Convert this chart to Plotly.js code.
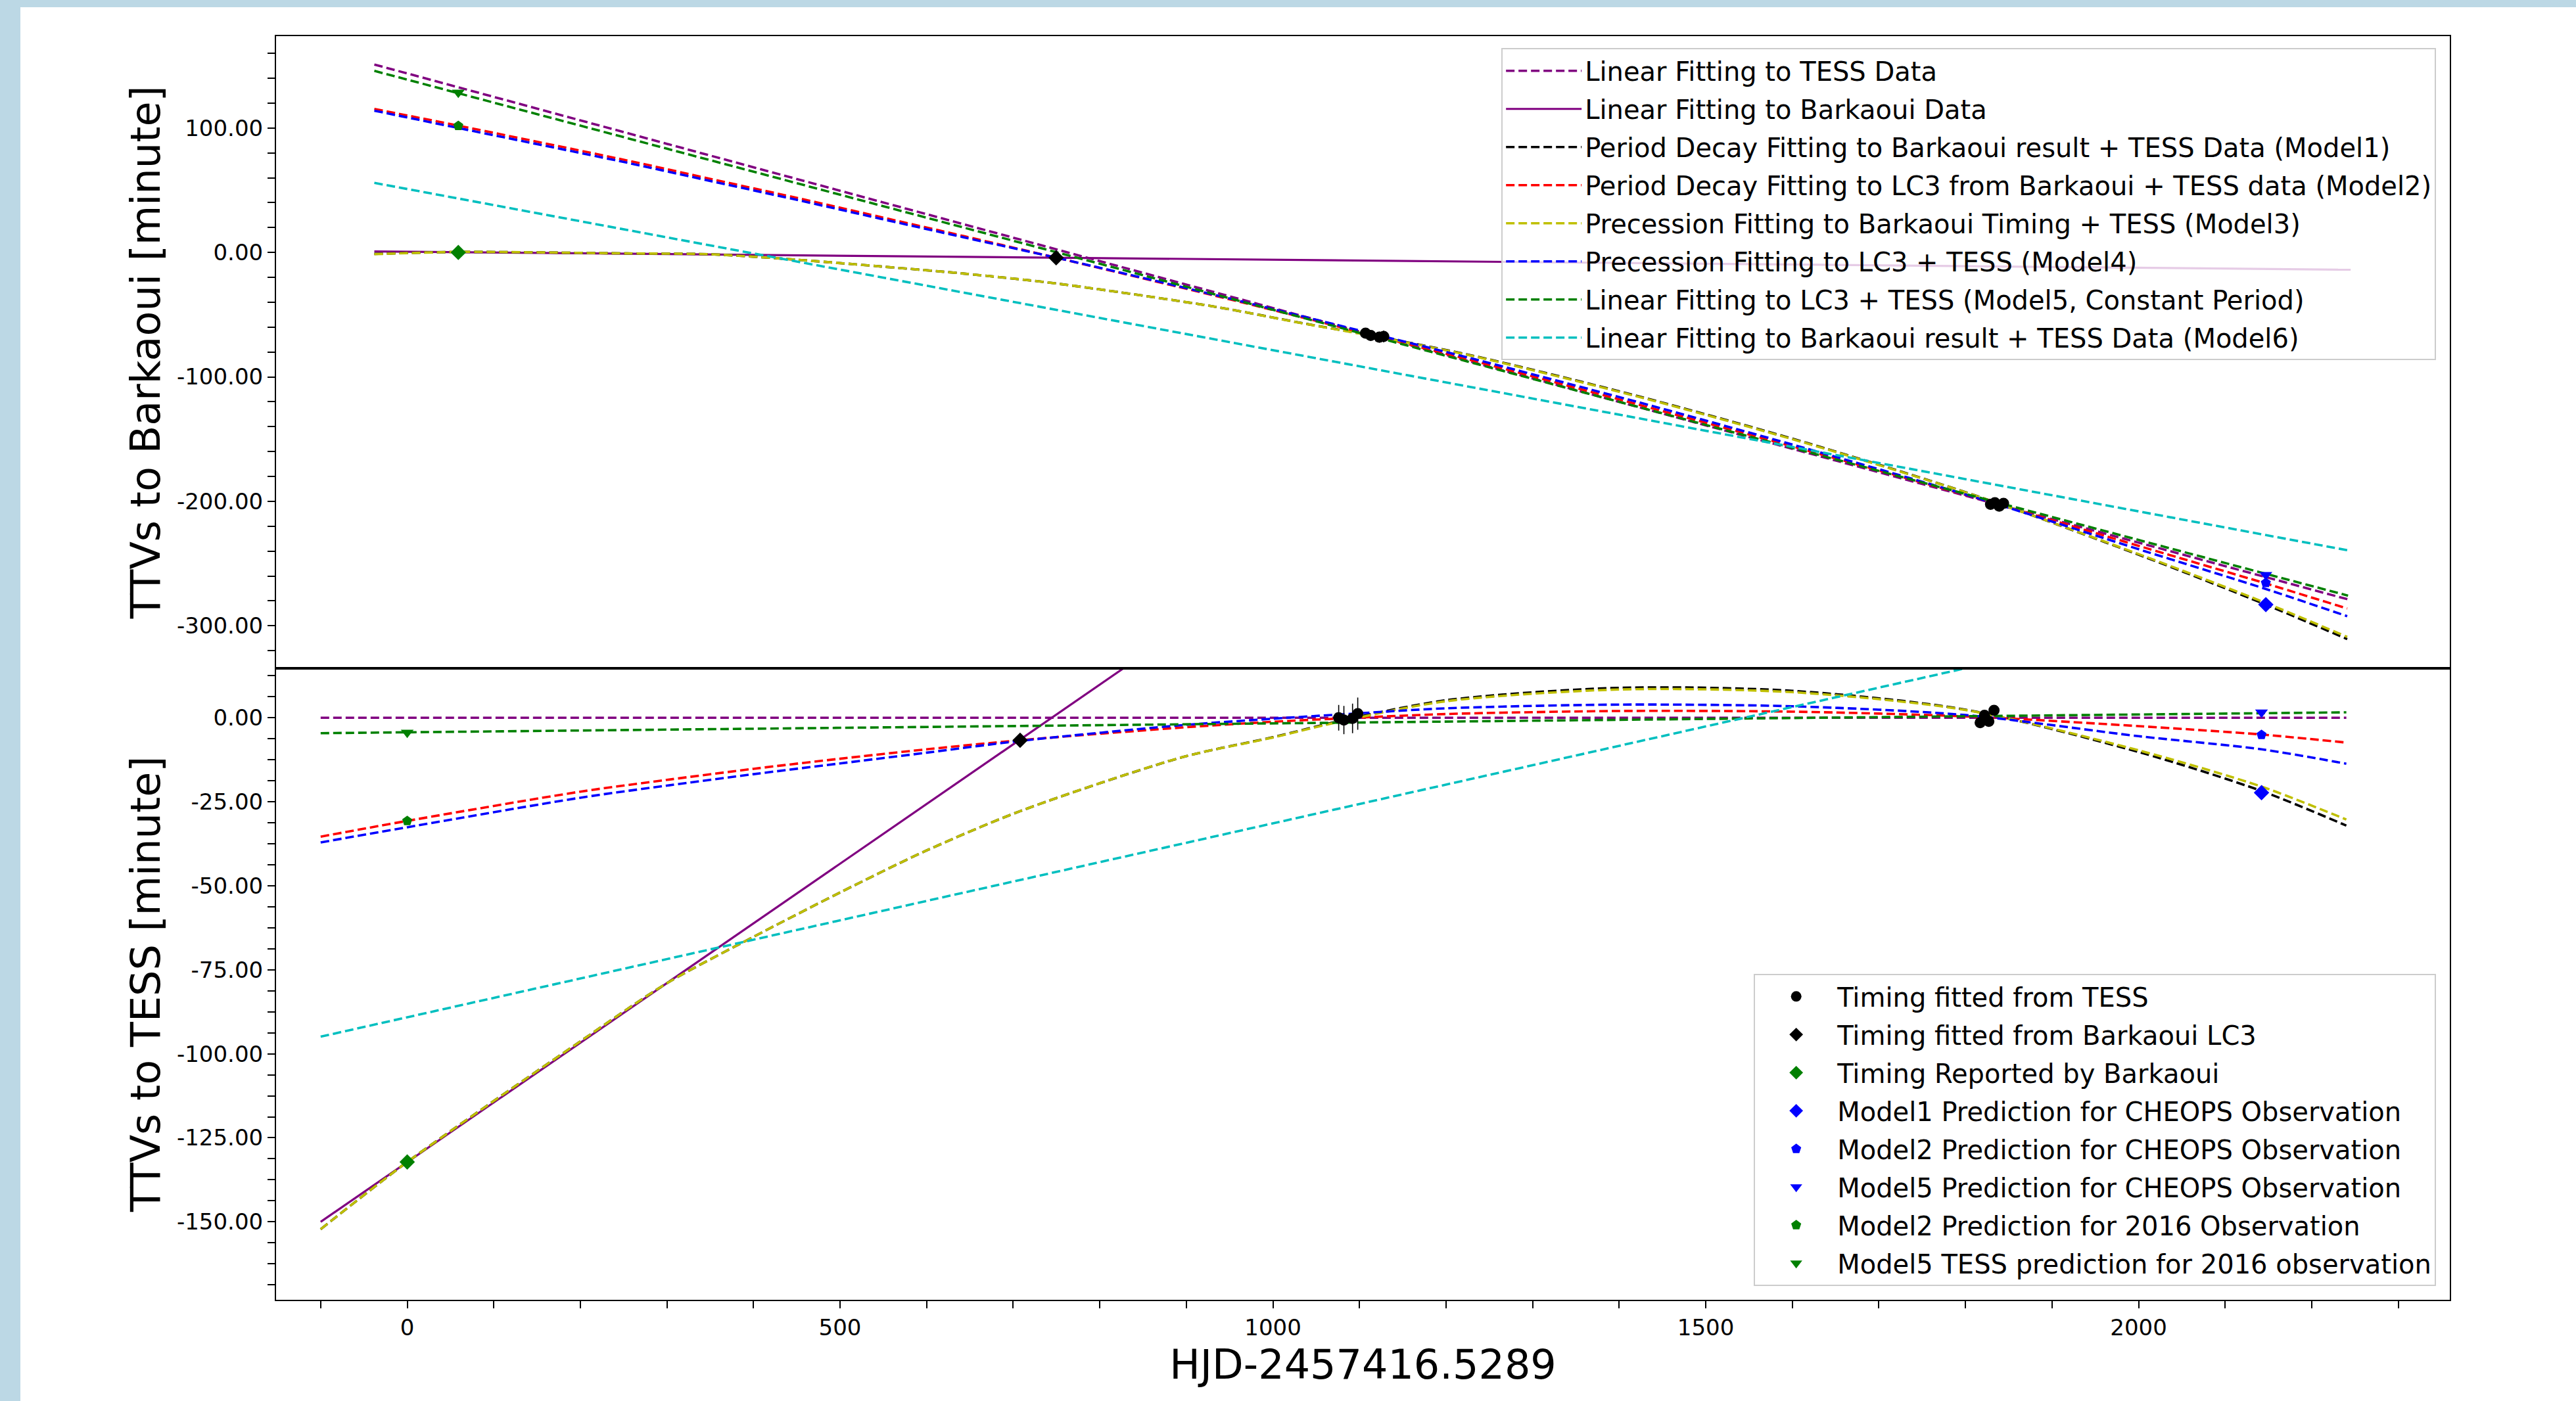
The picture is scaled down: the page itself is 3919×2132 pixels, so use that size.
<!DOCTYPE html>
<html>
<head>
<meta charset="utf-8">
<script src="https://cdn.plot.ly/plotly-3.0.1.min.js"></script>
<style>
  html, body { margin:0; padding:0; background:rgb(188,216,229); width:3919px; height:2132px; overflow:hidden; }
  #plot { position:absolute; left:31px; top:11px; width:3888px; height:2121px; background:white; }
</style>
</head>
<body>
<div id="plot"></div>
<script>
// ---------- data ----------
// Top panel: TTVs relative to Barkaoui ephemeris
const xTopLin = [-38, 2242];
const topLinearTESS = [151.0, -278.8];
const xTopBarkLin = [-38, 2245];
const topLinearBark = [0.85, -13.9];
const topModel5 = [145.9, -275.8];
const topModel6 = [55.9, -239.4];

const xTopCurve = [-38, 59, 254, 351, 449, 546, 643, 749, 932, 1033, 1111, 1228, 1423, 1617, 1812, 2007, 2145, 2241];
const topModel1 = [-1.2, 0.4, -0.8, -1.5, -5.8, -11.2, -17.0, -24.9, -43.5, -56.7, -66.4, -82.5, -115.7, -153.1, -195.4, -244.7, -282.4, -310.7];
const topModel2 = [115.3, 101.9, 73.9, 59.0, 44.0, 28.6, 13.1, -4.1, -34.6, -52.0, -65.8, -86.4, -122.4, -159.1, -197.2, -237.2, -265.6, -286.1];
const topModel3 = [-1.4, 0.4, -0.8, -1.5, -5.8, -11.2, -17.0, -24.9, -43.5, -56.8, -66.6, -82.8, -116.1, -153.5, -195.5, -244.2, -281.1, -308.9];
const topModel4 = [113.9, 100.0, 72.1, 57.3, 42.4, 27.2, 12.1, -4.1, -34.0, -51.2, -64.6, -84.9, -120.5, -157.7, -197.0, -240.0, -270.0, -292.3];

// Bottom panel: TTVs relative to TESS ephemeris
const xBotLin = [-100, 2240];
const botLinearTESS = [0, 0];
const botLinearBark = [-150.0, 265.6];
const botModel5 = [-4.6, 1.6];
const botModel6 = [-94.9, 40.1];

const xBotCurve = [-100, 0, 200, 300, 400, 500, 600, 708, 896, 1000, 1080, 1200, 1400, 1600, 1800, 2000, 2142, 2240];
const botModel1 = [-152.2, -132.2, -96.3, -79.0, -65.2, -52.0, -39.5, -27.8, -11.7, -5.8, -0.8, 5.2, 8.9, 8.0, 2.4, -10.2, -21.8, -32.1];
const botModel2 = [-35.4, -30.7, -22.0, -18.5, -15.2, -12.2, -9.4, -6.7, -2.9, -1.2, -0.2, 1.1, 2.0, 1.8, 0.4, -2.5, -5.0, -7.4];
const botModel3 = [-152.2, -132.2, -96.3, -79.0, -65.2, -52.0, -39.5, -27.8, -11.7, -5.9, -1.0, 4.9, 8.4, 7.6, 2.3, -9.7, -20.5, -30.3];
const botModel4 = [-37.1, -32.6, -23.8, -20.2, -16.8, -13.6, -10.4, -6.9, -2.2, -0.3, 1.0, 2.8, 3.9, 3.4, 0.8, -5.5, -9.4, -13.7];

// Observed / predicted timings
const xTessTop = [1107, 1113, 1123, 1128, 1829, 1834, 1839, 1844];
const tessTop  = [-64.9, -66.7, -68.1, -67.5, -202.4, -201.1, -203.9, -201.6];
const xTessBot = [1076, 1082, 1092, 1098, 1817, 1822, 1827, 1833];
const tessBot  = [0.0, -0.7, -0.2, 1.2, -1.5, 0.7, -1.1, 2.2];
const tessErr  = [3.8, 4.2, 4.4, 4.8, 1.5, 1.5, 1.5, 1.5];

const xLC3Top = [749.6], lc3Top = [-4.3];
const xLC3Bot = [708], lc3Bot = [-6.7];
const lc3Err = [1.2];

const xBarkTop = [59], barkTop = [0.0];
const xBarkBot = [0], barkBot = [-132.2];
const barkErr = [1.0];

const xCheopsTop = [2147], xCheopsBot = [2142];
const m1CheopsTop = [-283.0], m1CheopsBot = [-22.3];
const m2CheopsTop = [-265.5], m2CheopsBot = [-5.1];
const m5CheopsTop = [-259.0], m5CheopsBot = [1.6];

const x2016Top = [59], x2016Bot = [0];
const m2_2016Top = [101.7], m2_2016Bot = [-30.7];
const m5_2016Top = [128.5], m5_2016Bot = [-4.4];

const lineNames = [
  'Linear Fitting to TESS Data',
  'Linear Fitting to Barkaoui Data',
  'Period Decay Fitting to Barkaoui result + TESS Data (Model1)',
  'Period Decay Fitting to LC3 from Barkaoui + TESS data (Model2)',
  'Precession Fitting to Barkaoui Timing + TESS (Model3)',
  'Precession Fitting to LC3 + TESS (Model4)',
  'Linear Fitting to LC3 + TESS (Model5, Constant Period)',
  'Linear Fitting to Barkaoui result + TESS Data (Model6)'
];
const markerNames = [
  'Timing fitted from TESS',
  'Timing fitted from Barkaoui LC3',
  'Timing Reported by Barkaoui',
  'Model1 Prediction for CHEOPS Observation',
  'Model2 Prediction for CHEOPS Observation',
  'Model5 Prediction for CHEOPS Observation',
  'Model2 Prediction for 2016 Observation',
  'Model5 TESS prediction for 2016 observation'
];

const topTickVals = [-300, -200, -100, 0, 100];
const topTickText = ['-300.00', '-200.00', '-100.00', '0.00', '100.00'];
const botTickVals = [-150, -125, -100, -75, -50, -25, 0];
const botTickText = ['-150.00', '-125.00', '-100.00', '-75.00', '-50.00', '-25.00', '0.00'];

// ---------- styles ----------
const C = {purple:'#800080', black:'#000000', red:'#FF0000', yellow:'#BFBF00', blue:'#0000FF', green:'#008000', cyan:'#00BFBF'};
const DASH = '13px,6px';
const LW = 3.6;

function ln(x, y, color, dash, xa, ya, idx, show, shape) {
  return {type:'scatter', mode:'lines', x:x, y:y, xaxis:xa, yaxis:ya, name:lineNames[idx],
    showlegend:show, legend:'legend', legendgroup:'L' + idx,
    line:{color:color, width: dash ? LW : 3.2, dash: dash ? DASH : 'solid', shape: shape || 'linear', smoothing:0.8},
    hoverinfo:'skip'};
}
function mk(x, y, color, symbol, size, xa, ya, idx, show, err) {
  const t = {type:'scatter', mode:'markers', x:x, y:y, xaxis:xa, yaxis:ya, name:markerNames[idx],
    showlegend:show, legend:'legend2', legendgroup:'M' + idx,
    marker:{color:color, symbol:symbol, size:size, line:{width:0}}, hoverinfo:'skip'};
  if (err) t.error_y = {type:'data', array:err, visible:true, color:color, thickness:1.6, width:0};
  return t;
}

const traces = [];
// Top panel lines (legend 1)
traces.push(ln(xTopLin, topLinearTESS, C.purple, true, 'x2', 'y', 0, true));
traces.push(ln(xTopBarkLin, topLinearBark, C.purple, false, 'x2', 'y', 1, true));
traces.push(ln(xTopCurve, topModel1, C.black, true, 'x2', 'y', 2, true, 'spline'));
traces.push(ln(xTopCurve, topModel2, C.red, true, 'x2', 'y', 3, true, 'spline'));
traces.push(ln(xTopCurve, topModel3, C.yellow, true, 'x2', 'y', 4, true, 'spline'));
traces.push(ln(xTopCurve, topModel4, C.blue, true, 'x2', 'y', 5, true, 'spline'));
traces.push(ln(xTopLin, topModel5, C.green, true, 'x2', 'y', 6, true));
traces.push(ln(xTopLin, topModel6, C.cyan, true, 'x2', 'y', 7, true));
// Bottom panel lines
traces.push(ln(xBotLin, botLinearTESS, C.purple, true, 'x', 'y2', 0, false));
traces.push(ln(xBotLin, botLinearBark, C.purple, false, 'x', 'y2', 1, false));
traces.push(ln(xBotCurve, botModel1, C.black, true, 'x', 'y2', 2, false, 'spline'));
traces.push(ln(xBotCurve, botModel2, C.red, true, 'x', 'y2', 3, false, 'spline'));
traces.push(ln(xBotCurve, botModel3, C.yellow, true, 'x', 'y2', 4, false, 'spline'));
traces.push(ln(xBotCurve, botModel4, C.blue, true, 'x', 'y2', 5, false, 'spline'));
traces.push(ln(xBotLin, botModel5, C.green, true, 'x', 'y2', 6, false));
traces.push(ln(xBotLin, botModel6, C.cyan, true, 'x', 'y2', 7, false));

// Markers, top panel (no legend)
traces.push(mk(xTessTop, tessTop, C.black, 'circle', 17, 'x2', 'y', 0, false, tessErr));
traces.push(mk(xLC3Top, lc3Top, C.black, 'diamond', 18, 'x2', 'y', 1, false, lc3Err));
traces.push(mk(xBarkTop, barkTop, C.green, 'diamond', 18, 'x2', 'y', 2, false, barkErr));
traces.push(mk(xCheopsTop, m1CheopsTop, C.blue, 'diamond', 18, 'x2', 'y', 3, false));
traces.push(mk(xCheopsTop, m2CheopsTop, C.blue, 'pentagon', 16, 'x2', 'y', 4, false));
traces.push(mk(xCheopsTop, m5CheopsTop, C.blue, 'triangle-down', 17, 'x2', 'y', 5, false));
traces.push(mk(x2016Top, m2_2016Top, C.green, 'pentagon', 16, 'x2', 'y', 6, false));
traces.push(mk(x2016Top, m5_2016Top, C.green, 'triangle-down', 17, 'x2', 'y', 7, false));
// Markers, bottom panel (legend 2)
traces.push(mk(xTessBot, tessBot, C.black, 'circle', 17, 'x', 'y2', 0, true, tessErr));
traces.push(mk(xLC3Bot, lc3Bot, C.black, 'diamond', 18, 'x', 'y2', 1, true, lc3Err));
traces.push(mk(xBarkBot, barkBot, C.green, 'diamond', 18, 'x', 'y2', 2, true, barkErr));
traces.push(mk(xCheopsBot, m1CheopsBot, C.blue, 'diamond', 18, 'x', 'y2', 3, true));
traces.push(mk(xCheopsBot, m2CheopsBot, C.blue, 'pentagon', 16, 'x', 'y2', 4, true));
traces.push(mk(xCheopsBot, m5CheopsBot, C.blue, 'triangle-down', 17, 'x', 'y2', 5, true));
traces.push(mk(x2016Bot, m2_2016Bot, C.green, 'pentagon', 16, 'x', 'y2', 6, true));
traces.push(mk(x2016Bot, m5_2016Bot, C.green, 'triangle-down', 17, 'x', 'y2', 7, true));

const axBase = {showline:true, mirror:true, linecolor:'black', linewidth:2, showgrid:false, zeroline:false};
const tickStyle = {ticks:'outside', ticklen:11, tickwidth:2, tickcolor:'black'};

const layout = {
  width:3888, height:2121,
  margin:{l:389, r:192, t:44, b:154, pad:0},
  paper_bgcolor:'white', plot_bgcolor:'white',
  font:{family:'DejaVu Sans', size:34, color:'black'},
  showlegend:true,
  xaxis: Object.assign({}, axBase, tickStyle, {
    domain:[0,1], anchor:'y2', range:[-151.5, 2359.5], automargin:true,
    tickmode:'linear', tick0:0, dtick:500, tickfont:{size:34},
    minor:{ticks:'outside', ticklen:11, tickwidth:2, tickcolor:'black', tick0:0, dtick:100, showgrid:false},
    title:{text:'HJD-2457416.5289', font:{size:62}, standoff:2}
  }),
  xaxis2: Object.assign({}, axBase, {
    domain:[0,1], anchor:'y', matches:'x', range:[-151.5, 2359.5],
    showticklabels:false, ticks:''
  }),
  yaxis: Object.assign({}, axBase, tickStyle, {
    domain:[0.5,1], anchor:'x2', range:[-333.9, 173.8],
    tickmode:'array', tickvals:topTickVals, ticktext:topTickText, tickfont:{size:34},
    minor:{ticks:'outside', ticklen:11, tickwidth:2, tickcolor:'black', tick0:0, dtick:20, showgrid:false},
    title:{text:'TTVs to Barkaoui [minute]', font:{size:62}, standoff:5}
  }),
  yaxis2: Object.assign({}, axBase, tickStyle, {
    domain:[0,0.5], anchor:'x', range:[-173.2, 14.8],
    tickmode:'array', tickvals:botTickVals, ticktext:botTickText, tickfont:{size:34},
    minor:{ticks:'outside', ticklen:11, tickwidth:2, tickcolor:'black', tick0:0, dtick:6.25, showgrid:false},
    title:{text:'TTVs to TESS [minute]', font:{size:62}, standoff:5}
  }),
  legend:{
    x:0.9937, xanchor:'right', y:0.9905, yanchor:'top',
    bgcolor:'rgba(255,255,255,0.8)', bordercolor:'#CCCCCC', borderwidth:2,
    font:{size:40, family:'DejaVu Sans'}, itemwidth:115, tracegroupgap:3, traceorder:'grouped'
  },
  legend2:{
    x:0.9937, xanchor:'right', y:0.011, yanchor:'bottom',
    bgcolor:'rgba(255,255,255,0.8)', bordercolor:'#CCCCCC', borderwidth:2,
    font:{size:40, family:'DejaVu Sans'}, itemwidth:115, tracegroupgap:3, traceorder:'grouped'
  }
};

Plotly.newPlot('plot', traces, layout, {staticPlot:true, displayModeBar:false});
</script>
</body>
</html>
